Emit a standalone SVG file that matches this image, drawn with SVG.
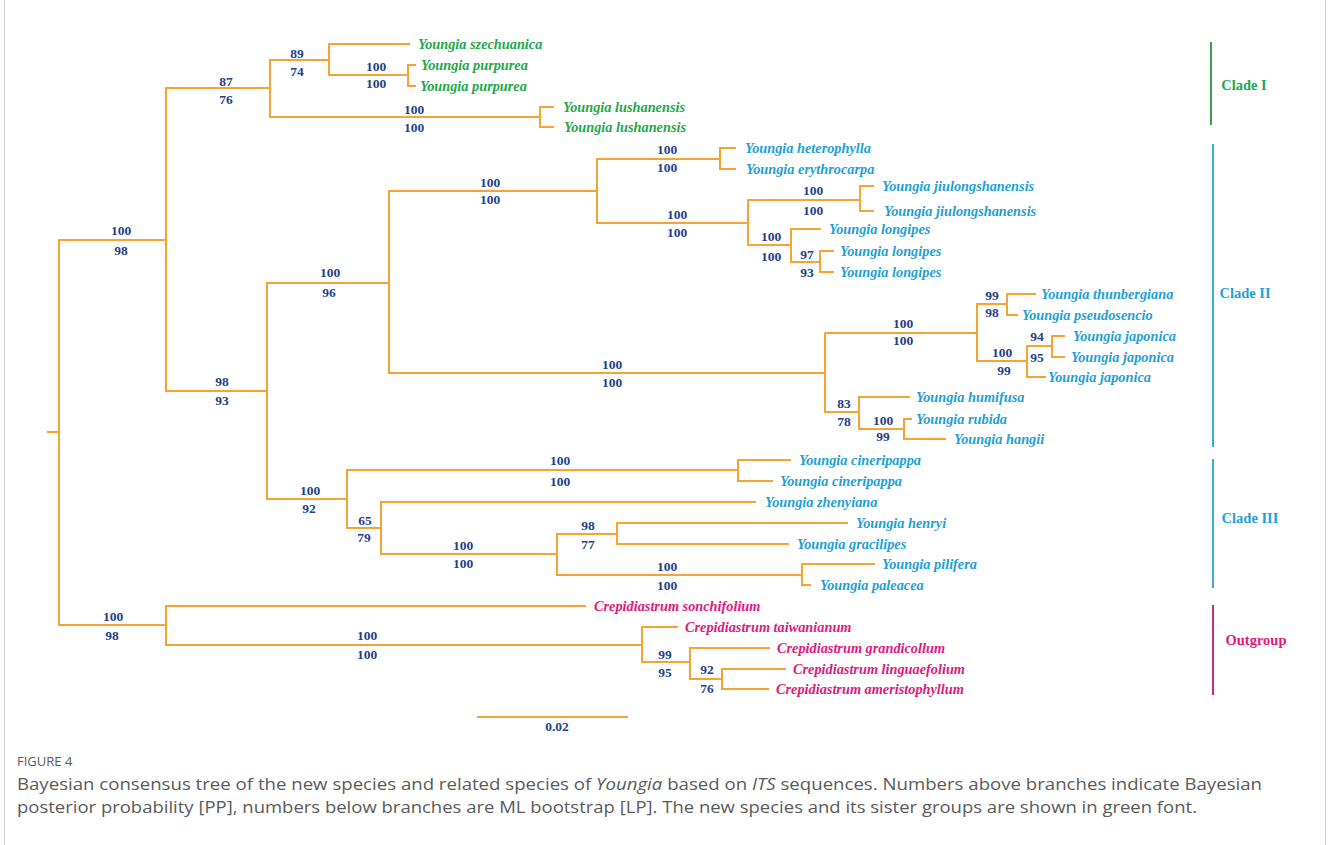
<svg xmlns="http://www.w3.org/2000/svg" width="1328" height="845" viewBox="0 0 1328 845">
<style>
.br{fill:none;stroke:#F7A233;stroke-width:2;stroke-linecap:square}
.sp{font-family:"Liberation Serif","Times New Roman",serif;font-weight:bold;font-size:13.5px;fill:#1F3F8C;text-anchor:middle}
.tx{font-family:"Liberation Serif","Times New Roman",serif;font-weight:bold;font-style:italic;font-size:14.3px}
.g{fill:#22A84A}.b{fill:#1E9FD6}.m{fill:#E0197D}
.cl{font-family:"Liberation Serif","Times New Roman",serif;font-weight:bold;font-size:14.5px;text-anchor:middle}
.cap{font-family:"Open Sans","Noto Sans",sans-serif;fill:#5a5a5a}
</style>
<rect x="0" y="0" width="1328" height="845" fill="#ffffff"/>
<rect x="4.5" y="-10" width="1321" height="870" fill="none" stroke="#cccccc" stroke-width="1"/>
<g id="connectors">
<path class="br" d="M48,432H59 M59,240V625 M59,240H166 M59,625H166
M166,88V391 M166,88H270 M166,391H267
M270,60V117 M270,60H329 M270,117H540
M329,44V75 M329,44H409 M329,75H408
M408,65V86 M408,65H415 M408,86H415
M540,107V127 M540,107H553 M540,127H553
M267,283V499 M267,283H389 M267,499H347
M389,191V373 M389,191H597 M389,373H825
M597,159V223 M597,159H720 M597,223H748
M720,148V169 M720,148H735 M720,169H735
M748,200V245 M748,200H860 M748,245H791
M860,186V211 M860,186H873 M860,211H873
M791,229V262 M791,229H820 M791,262H820
M820,251V272 M820,251H833 M820,272H833
M825,333V412 M825,333H977 M825,412H859
M977,304V361 M977,304H1007 M977,361H1027
M1007,294V315 M1007,294H1035 M1007,315H1017
M1027,346V377 M1027,346H1052 M1027,377H1045
M1052,336V357 M1052,336H1064 M1052,357H1064
M859,397V429 M859,397H909 M859,429H904
M904,419V439 M904,419H911 M904,439H945
M347,470V528 M347,470H738 M347,528H381
M738,460V481 M738,460H790 M738,481H772
M381,502V554 M381,502H755 M381,554H557
M557,534V575 M557,534H617 M557,575H802
M617,523V544 M617,523H847 M617,544H788
M802,564V585 M802,564H874 M802,585H810
M166,606V645 M166,606H585 M166,645H642
M642,627V662 M642,627H677 M642,662H690
M690,648V679 M690,648H769 M690,679H722
M722,669V689 M722,669H785 M722,689H768"/>
</g>
<g id="support">
<text class="sp" x="121" y="234.5">100</text><text class="sp" x="121" y="254.5">98</text>
<text class="sp" x="226" y="85.5">87</text><text class="sp" x="226" y="104">76</text>
<text class="sp" x="297" y="57.5">89</text><text class="sp" x="297" y="76">74</text>
<text class="sp" x="376" y="70.5">100</text><text class="sp" x="376" y="88">100</text>
<text class="sp" x="414" y="113.5">100</text><text class="sp" x="414" y="132">100</text>
<text class="sp" x="222" y="386">98</text><text class="sp" x="222" y="404.5">93</text>
<text class="sp" x="330" y="277">100</text><text class="sp" x="329" y="297">96</text>
<text class="sp" x="490" y="187">100</text><text class="sp" x="490" y="204">100</text>
<text class="sp" x="667" y="153.5">100</text><text class="sp" x="667" y="172">100</text>
<text class="sp" x="677" y="218.5">100</text><text class="sp" x="677" y="237">100</text>
<text class="sp" x="813" y="195">100</text><text class="sp" x="813" y="214.5">100</text>
<text class="sp" x="771" y="241">100</text><text class="sp" x="771" y="261">100</text>
<text class="sp" x="807" y="258.5">97</text><text class="sp" x="807" y="277">93</text>
<text class="sp" x="612" y="368.5">100</text><text class="sp" x="612" y="386.5">100</text>
<text class="sp" x="903" y="328">100</text><text class="sp" x="903" y="345">100</text>
<text class="sp" x="992" y="299.5">99</text><text class="sp" x="992" y="317">98</text>
<text class="sp" x="1002" y="357">100</text><text class="sp" x="1004" y="374.5">99</text>
<text class="sp" x="1037" y="340.5">94</text><text class="sp" x="1037" y="362">95</text>
<text class="sp" x="844" y="408">83</text><text class="sp" x="844" y="426">78</text>
<text class="sp" x="883" y="425">100</text><text class="sp" x="883" y="441">99</text>
<text class="sp" x="310" y="494.5">100</text><text class="sp" x="309" y="513">92</text>
<text class="sp" x="560" y="465">100</text><text class="sp" x="560" y="485.5">100</text>
<text class="sp" x="365" y="524.5">65</text><text class="sp" x="364" y="542">79</text>
<text class="sp" x="463" y="550">100</text><text class="sp" x="463" y="568">100</text>
<text class="sp" x="588" y="530">98</text><text class="sp" x="588" y="548.5">77</text>
<text class="sp" x="667" y="571">100</text><text class="sp" x="667" y="589.5">100</text>
<text class="sp" x="113" y="621">100</text><text class="sp" x="112" y="640">98</text>
<text class="sp" x="367" y="639.5">100</text><text class="sp" x="367" y="658.5">100</text>
<text class="sp" x="665" y="658.5">99</text><text class="sp" x="665" y="677">95</text>
<text class="sp" x="707" y="674">92</text><text class="sp" x="707" y="693">76</text>
</g>
<g id="taxa">
<g id="t1"><text class="tx g" x="418" y="49">Youngia szechuanica</text></g>
<g id="t2"><text class="tx g" x="421" y="70">Youngia purpurea</text></g>
<g id="t3"><text class="tx g" x="420" y="91">Youngia purpurea</text></g>
<g id="t4"><text class="tx g" x="563" y="112">Youngia lushanensis</text></g>
<g id="t5"><text class="tx g" x="564" y="132">Youngia lushanensis</text></g>
<g id="t6"><text class="tx b" x="745" y="153">Youngia heterophylla</text></g>
<g id="t7"><text class="tx b" x="746" y="174">Youngia erythrocarpa</text></g>
<g id="t8"><text class="tx b" x="882" y="191">Youngia jiulongshanensis</text></g>
<g id="t9"><text class="tx b" x="884" y="216">Youngia jiulongshanensis</text></g>
<g id="t10"><text class="tx b" x="829" y="234">Youngia longipes</text></g>
<g id="t11"><text class="tx b" x="840" y="256">Youngia longipes</text></g>
<g id="t12"><text class="tx b" x="840" y="277">Youngia longipes</text></g>
<g id="t13"><text class="tx b" x="1041" y="299">Youngia thunbergiana</text></g>
<g id="t14"><text class="tx b" x="1022" y="320">Youngia pseudosencio</text></g>
<g id="t15"><text class="tx b" x="1073" y="341">Youngia japonica</text></g>
<g id="t16"><text class="tx b" x="1071" y="362">Youngia japonica</text></g>
<g id="t17"><text class="tx b" x="1048" y="382">Youngia japonica</text></g>
<g id="t18"><text class="tx b" x="916" y="402">Youngia humifusa</text></g>
<g id="t19"><text class="tx b" x="916" y="424">Youngia rubida</text></g>
<g id="t20"><text class="tx b" x="954" y="444">Youngia hangii</text></g>
<g id="t21"><text class="tx b" x="799" y="465">Youngia cineripappa</text></g>
<g id="t22"><text class="tx b" x="780" y="486">Youngia cineripappa</text></g>
<g id="t23"><text class="tx b" x="765" y="507">Youngia zhenyiana</text></g>
<g id="t24"><text class="tx b" x="856" y="528">Youngia henryi</text></g>
<g id="t25"><text class="tx b" x="797" y="549">Youngia gracilipes</text></g>
<g id="t26"><text class="tx b" x="882" y="569">Youngia pilifera</text></g>
<g id="t27"><text class="tx b" x="820" y="590">Youngia paleacea</text></g>
<g id="t28"><text class="tx m" x="594" y="611">Crepidiastrum sonchifolium</text></g>
<g id="t29"><text class="tx m" x="685" y="632">Crepidiastrum taiwanianum</text></g>
<g id="t30"><text class="tx m" x="777" y="653">Crepidiastrum grandicollum</text></g>
<g id="t31"><text class="tx m" x="793" y="674">Crepidiastrum linguaefolium</text></g>
<g id="t32"><text class="tx m" x="776" y="694">Crepidiastrum ameristophyllum</text></g>
</g>
<g id="clades">
<g id="clade1"><line x1="1211" y1="42" x2="1211" y2="125" stroke="#3A9E4E" stroke-width="2"/><text class="cl g" x="1244" y="90">Clade I</text></g>
<g id="clade2"><line x1="1213" y1="144" x2="1213" y2="447" stroke="#35A9E1" stroke-width="2"/><text class="cl b" x="1245" y="298">Clade II</text></g>
<g id="clade3"><line x1="1213" y1="459" x2="1213" y2="588" stroke="#35A9E1" stroke-width="2"/><text class="cl b" x="1250" y="523">Clade III</text></g>
<g id="outgroup"><line x1="1213" y1="605" x2="1213" y2="695" stroke="#C42A7E" stroke-width="2"/><text class="cl m" x="1256" y="645">Outgroup</text></g>
</g>
<g id="scale">
<path class="br" d="M478,717H627"/>
<text class="sp" x="557" y="731">0.02</text>
</g>
<g id="caption">
<text class="cap" x="17" y="766" font-size="13">FIGURE 4</text>
<text class="cap" x="17" y="790" font-size="16.5" textLength="1245" lengthAdjust="spacingAndGlyphs">Bayesian consensus tree of the new species and related species of <tspan font-style="italic">Youngia</tspan> based on <tspan font-style="italic">ITS</tspan> sequences. Numbers above branches indicate Bayesian</text>
<text class="cap" x="17" y="813" font-size="16.5" textLength="1180" lengthAdjust="spacingAndGlyphs">posterior probability [PP], numbers below branches are ML bootstrap [LP]. The new species and its sister groups are shown in green font.</text>
</g>
</svg>
